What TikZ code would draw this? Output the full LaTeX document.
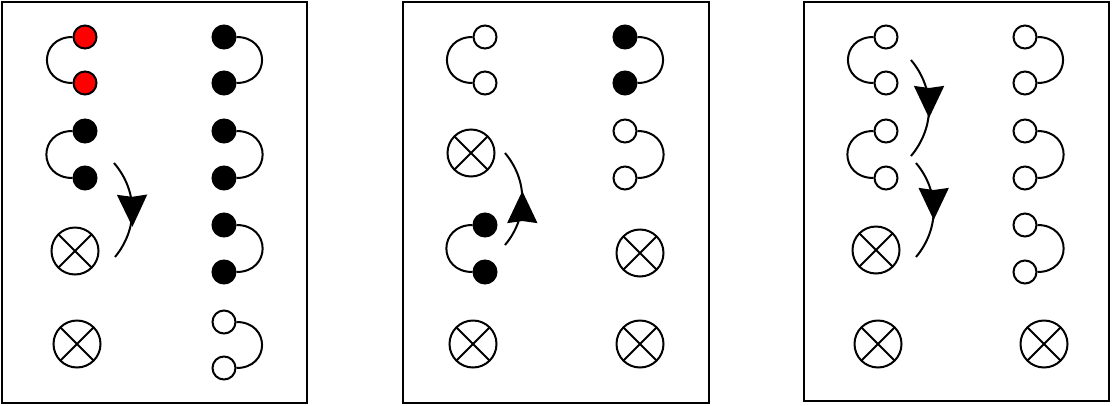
\documentclass[tikz,border=0pt]{standalone}
\usetikzlibrary{arrows.meta,decorations.markings}

\tikzset{
    frame/.style={line width=2.2pt},
    dot/.style={circle, draw, line width=2pt, minimum size=23pt, inner sep=0pt},
    fulldot/.style={dot, fill=black},
    reddot/.style={dot, fill=red},
    opendot/.style={dot, fill=white},
    lamp/.style={circle, draw, line width=2pt, minimum size=47pt, inner sep=0pt,
        path picture={\draw[line width=2pt]
            (path picture bounding box.north west) -- (path picture bounding box.south east)
            (path picture bounding box.north east) -- (path picture bounding box.south west);}},
    leftlink/.style={line width=2pt, out=180, in=180, looseness=1.9},
    rightlink/.style={line width=2pt, out=0, in=0, looseness=1.9},
    % #1 = how far the tip sits past the middle of the arc
    midarrow/.style={line width=2pt, postaction={decorate},
        decoration={markings, mark=at position 0.5 with {\arrow[xshift=#1]{Stealth[length=32pt, width=30pt, inset=2pt]}}}},
    midarrow/.default=12pt
}

\begin{document}
\begin{tikzpicture}[x=1pt, y=-1pt]
    \useasboundingbox (0,0) rectangle (1112,405);

    % First panel
    \draw[frame] (2,2) rectangle (307,403);
    \node[reddot] (a1) at (85,37) {};
    \node[reddot] (a2) at (85,83) {};
    \node[fulldot] (a3) at (85,131) {};
    \node[fulldot] (a4) at (85,178) {};
    \node[lamp] (a5) at (75,251) {};
    \node[lamp] (a6) at (77,344) {};
    \draw[leftlink] (a1.west) to (a2.west);
    \draw[leftlink] (a3.west) to (a4.west);

    \node[fulldot] (b1) at (224,37) {};
    \node[fulldot] (b2) at (224,83) {};
    \node[fulldot] (b3) at (224,131) {};
    \node[fulldot] (b4) at (224,178) {};
    \node[fulldot] (b5) at (224,225) {};
    \node[fulldot] (b6) at (224,272) {};
    \node[opendot] (b7) at (224,322) {};
    \node[opendot] (b8) at (224,368) {};
    \draw[rightlink] (b1.east) to (b2.east);
    \draw[rightlink] (b3.east) to (b4.east);
    \draw[rightlink] (b5.east) to (b6.east);
    \draw[rightlink] (b7.east) to (b8.east);

    \coordinate (s1) at (114,163);
    \coordinate (e1) at (115,257);
    \draw[midarrow=17pt] (s1) to[bend left=40] (e1);

    % Second panel
    \draw[frame] (403,2) rectangle (709,403);
    \node[opendot] (c1) at (485,37) {};
    \node[opendot] (c2) at (485,83) {};
    \node[lamp] (c3) at (471,153) {};
    \node[fulldot] (c4) at (485,225) {};
    \node[fulldot] (c5) at (485,272) {};
    \node[lamp] (c6) at (473,344) {};
    \draw[leftlink] (c1.west) to (c2.west);
    \draw[leftlink] (c4.west) to (c5.west);

    \node[fulldot] (d1) at (625,37) {};
    \node[fulldot] (d2) at (625,83) {};
    \node[opendot] (d3) at (625,131) {};
    \node[opendot] (d4) at (625,178) {};
    \node[lamp] (d5) at (640,253) {};
    \node[lamp] (d6) at (640,344) {};
    \draw[rightlink] (d1.east) to (d2.east);
    \draw[rightlink] (d3.east) to (d4.east);

    \coordinate (s2) at (505,245);
    \coordinate (e2) at (505,153);
    \draw[midarrow=8pt] (s2) to[bend right=40] (e2);

    % Third panel
    \draw[frame] (804,2) rectangle (1109,401);
    \node[opendot] (f1) at (886,37) {};
    \node[opendot] (f2) at (886,83) {};
    \node[opendot] (f3) at (886,131) {};
    \node[opendot] (f4) at (886,178) {};
    \node[lamp] (f5) at (876,250) {};
    \node[lamp] (f6) at (878,344) {};
    \draw[leftlink] (f1.west) to (f2.west);
    \draw[leftlink] (f3.west) to (f4.west);

    \node[opendot] (g1) at (1025,37) {};
    \node[opendot] (g2) at (1025,83) {};
    \node[opendot] (g3) at (1025,131) {};
    \node[opendot] (g4) at (1025,178) {};
    \node[opendot] (g5) at (1025,225) {};
    \node[opendot] (g6) at (1025,272) {};
    \node[lamp] (g7) at (1044,344) {};
    \draw[rightlink] (g1.east) to (g2.east);
    \draw[rightlink] (g3.east) to (g4.east);
    \draw[rightlink] (g5.east) to (g6.east);

    \coordinate (s3) at (911,60);
    \coordinate (e3) at (911,156);
    \draw[midarrow=10pt] (s3) to[bend left=40] (e3);
    \coordinate (s4) at (916,163);
    \coordinate (e4) at (916,257);
    \draw[midarrow=10pt] (s4) to[bend left=40] (e4);
\end{tikzpicture}
\end{document}
